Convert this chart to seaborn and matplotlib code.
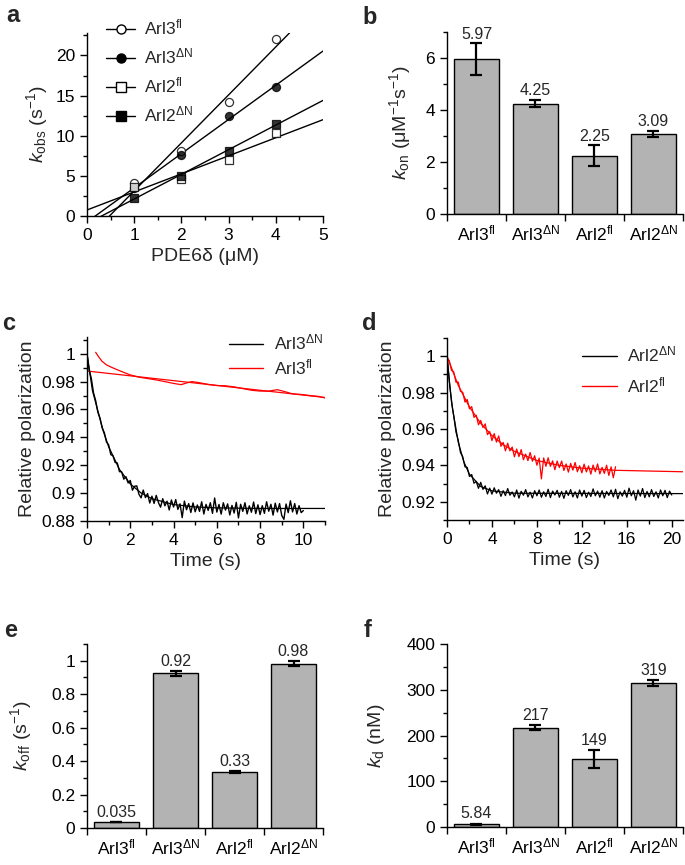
import numpy as np
import pandas as pd
import matplotlib
matplotlib.use("Agg")
import matplotlib.pyplot as plt
import seaborn as sns
from matplotlib.lines import Line2D
from matplotlib.ticker import MultipleLocator, FuncFormatter, FixedLocator, NullFormatter

# ---------------- data ----------------
# panel a: k_obs vs PDE6delta concentration
conc = [1, 2, 3, 4]
kobs_arl3_fl = [4.1, 8.1, 14.2, 22.0]
kobs_arl3_dn = [3.5, 7.6, 12.4, 16.1]
kobs_arl2_fl = [3.6, 4.6, 7.0, 10.3]
kobs_arl2_dn = [2.3, 5.0, 8.1, 11.5]

proteins = ["Arl3$^{\\mathrm{fl}}$", "Arl3$^{\\Delta\\mathrm{N}}$",
            "Arl2$^{\\mathrm{fl}}$", "Arl2$^{\\Delta\\mathrm{N}}$"]

# panel b: k_on
kon = [5.97, 4.25, 2.25, 3.09]
kon_err = [0.61, 0.15, 0.39, 0.12]
kon_labels = ["5.97", "4.25", "2.25", "3.09"]

# panel e: k_off
koff = [0.035, 0.925, 0.335, 0.983]
koff_err = [0.002, 0.016, 0.006, 0.014]
koff_labels = ["0.035", "0.92", "0.33", "0.98"]

# panel f: K_d
kd = [5.84, 217, 149, 315]
kd_err = [1.5, 5, 19, 6]
kd_labels = ["5.84", "217", "149", "319"]

# panel c: Arl3 dissociation traces
t_c_dn = [round(0.1 * i, 1) for i in range(101)]
p_c_dn = [1.0000, 0.9884, 0.9823, 0.9720, 0.9664, 0.9581, 0.9538, 0.9468, 0.9434, 0.9367,
          0.9346, 0.9276, 0.9268, 0.9220, 0.9216, 0.9154, 0.9153, 0.9100, 0.9118, 0.9073,
          0.9091, 0.9021, 0.9049, 0.9052, 0.8992, 0.8966, 0.9022, 0.8968, 0.8997, 0.8929,
          0.8978, 0.8926, 0.8984, 0.8933, 0.8899, 0.8960, 0.8909, 0.8942, 0.8879, 0.8951,
          0.8900, 0.8954, 0.8883, 0.8923, 0.8824, 0.8943, 0.8881, 0.8925, 0.8861, 0.8930,
          0.8866, 0.8915, 0.8869, 0.8938, 0.8850, 0.8919, 0.8876, 0.8931, 0.8855, 0.8965,
          0.8864, 0.8919, 0.8849, 0.8931, 0.8878, 0.8923, 0.8843, 0.8912, 0.8857, 0.8934,
          0.8822, 0.8920, 0.8869, 0.8931, 0.8851, 0.8909, 0.8863, 0.8936, 0.8853, 0.8916,
          0.8846, 0.8910, 0.8855, 0.8938, 0.8870, 0.8920, 0.8842, 0.8928, 0.8865, 0.8925,
          0.8840, 0.8812, 0.8922, 0.8860, 0.8945, 0.8865, 0.8925, 0.8850, 0.8910, 0.8860,
          0.8875]
t_c_dn_fit = [0, 0.25, 0.5, 0.75, 1.0, 1.5, 2.0, 2.5, 3.0, 4.0, 5.0, 6.0, 8.0, 11.0]
p_c_dn_fit = [1.0, 0.9737, 0.9591, 0.9446, 0.9333, 0.9170, 0.9066, 0.9001, 0.8960, 0.8918,
              0.8901, 0.8894, 0.8890, 0.8890]
t_c_fl = [0.40, 0.55, 0.70, 0.90, 1.10, 1.40, 1.70, 2.00, 2.40, 2.80, 3.20, 3.60, 4.00, 4.35,
          4.60, 4.85, 5.20, 5.60, 6.00, 6.40, 6.80, 7.20, 7.60, 8.00, 8.40, 8.80, 9.10, 9.50,
          9.90, 10.30, 10.70, 11.00]
p_c_fl = [1.0010, 0.9975, 0.9945, 0.9920, 0.9905, 0.9885, 0.9866, 0.9848, 0.9832, 0.9822,
          0.9812, 0.9800, 0.9787, 0.9778, 0.9790, 0.9800, 0.9792, 0.9780, 0.9772, 0.9770,
          0.9762, 0.9750, 0.9738, 0.9732, 0.9732, 0.9742, 0.9730, 0.9712, 0.9708, 0.9700,
          0.9694, 0.9683]
t_c_fl_fit = [0.0, 11.0]
p_c_fl_fit = [0.9876, 0.9686]

# panel d: Arl2 dissociation traces
t_d_dn = [round(0.2 * i, 1) for i in range(101)]
p_d_dn = [1.0000, 0.9871, 0.9749, 0.9672, 0.9583, 0.9538, 0.9470, 0.9448, 0.9392, 0.9389,
          0.9339, 0.9350, 0.9302, 0.9312, 0.9274, 0.9307, 0.9268, 0.9288, 0.9243, 0.9275,
          0.9242, 0.9277, 0.9247, 0.9267, 0.9230, 0.9261, 0.9234, 0.9273, 0.9236, 0.9254,
          0.9227, 0.9265, 0.9220, 0.9258, 0.9236, 0.9267, 0.9227, 0.9253, 0.9221, 0.9261,
          0.9233, 0.9265, 0.9225, 0.9255, 0.9229, 0.9269, 0.9223, 0.9259, 0.9237, 0.9263,
          0.9225, 0.9257, 0.9219, 0.9261, 0.9235, 0.9267, 0.9227, 0.9255, 0.9221, 0.9265,
          0.9231, 0.9263, 0.9223, 0.9253, 0.9229, 0.9271, 0.9233, 0.9259, 0.9225, 0.9261,
          0.9221, 0.9257, 0.9235, 0.9265, 0.9227, 0.9269, 0.9217, 0.9255, 0.9231, 0.9263,
          0.9225, 0.9275, 0.9233, 0.9261, 0.9209, 0.9265, 0.9231, 0.9273, 0.9223, 0.9257,
          0.9227, 0.9267, 0.9229, 0.9255, 0.9221, 0.9265, 0.9233, 0.9263, 0.9223, 0.9259,
          0.9237]
t_d_dn_fit = [0, 0.25, 0.5, 1.0, 1.5, 2.0, 3.0, 4.0, 6.0, 21.0]
p_d_dn_fit = [1.0, 0.9834, 0.9708, 0.9528, 0.9419, 0.9351, 0.9284, 0.9260, 0.9247, 0.9245]
t_d_fl = [round(0.2 * i, 1) for i in range(76)]
p_d_fl = [0.9990, 0.9976, 0.9922, 0.9914, 0.9857, 0.9858, 0.9807, 0.9802, 0.9748, 0.9762,
          0.9711, 0.9723, 0.9664, 0.9676, 0.9623, 0.9647, 0.9608, 0.9628, 0.9569, 0.9586,
          0.9536, 0.9575, 0.9528, 0.9562, 0.9505, 0.9526, 0.9480, 0.9522, 0.9480, 0.9501,
          0.9447, 0.9490, 0.9448, 0.9487, 0.9431, 0.9462, 0.9426, 0.9471, 0.9423, 0.9453,
          0.9401, 0.9440, 0.9326, 0.9441, 0.9395, 0.9442, 0.9395, 0.9425, 0.9376, 0.9424,
          0.9388, 0.9424, 0.9372, 0.9408, 0.9363, 0.9411, 0.9374, 0.9416, 0.9365, 0.9398,
          0.9359, 0.9407, 0.9364, 0.9397, 0.9352, 0.9402, 0.9365, 0.9408, 0.9353, 0.9389,
          0.9356, 0.9401, 0.9345, 0.9392, 0.9332, 0.9393]
t_d_fl_fit = [0, 1, 2, 3, 4, 5, 6, 8, 10, 12, 15, 21]
p_d_fl_fit = [1.0, 0.9840, 0.9721, 0.9631, 0.9564, 0.9514, 0.9477, 0.9427, 0.9400, 0.9385,
              0.9373, 0.9365]

# ---------------- style ----------------
sns.set_style("ticks")
plt.rcParams["font.family"] = ["Liberation Sans", "DejaVu Sans"]
plt.rcParams["mathtext.fontset"] = "custom"
plt.rcParams["mathtext.rm"] = "Liberation Sans"
plt.rcParams["mathtext.it"] = "Liberation Sans:italic"
plt.rcParams["mathtext.bf"] = "Liberation Sans:bold"
plt.rcParams["axes.linewidth"] = 1.0
plt.rcParams["xtick.major.width"] = 1.0
plt.rcParams["ytick.major.width"] = 1.0
plt.rcParams["xtick.minor.width"] = 1.0
plt.rcParams["ytick.minor.width"] = 1.0
plt.rcParams["xtick.direction"] = "out"
plt.rcParams["ytick.direction"] = "out"

TICK_FS = 12.5
LAB_FS = 14
VAL_FS = 11.5
LEG_FS = 12.5

W, H = 685, 865
fig = plt.figure(figsize=(W / 100, H / 100), dpi=100)


def add_axes(l, r, t, b):
    return fig.add_axes([l / W, 1 - b / H, (r - l) / W, (b - t) / H])


def fmt(v, pos):
    return f"{v:g}"


def style_axes(ax):
    sns.despine(ax=ax)
    ax.tick_params(axis="both", which="major", length=5, labelsize=TICK_FS, color="black",
                   labelcolor="black")
    ax.tick_params(axis="both", which="minor", length=3, color="black")
    for s in ax.spines.values():
        s.set_color("black")


ax_a = add_axes(87, 323, 33, 216)
ax_b = add_axes(447, 683, 32, 214)
ax_c = add_axes(87, 325, 337, 521)
ax_d = add_axes(447, 683, 338, 520)
ax_e = add_axes(87, 323, 644, 828)
ax_f = add_axes(447, 683, 644, 827)

# ---------------- panel a ----------------
ax = ax_a
ax.set_xlim(0, 5)
ax.set_ylim(0, 22.8)
series_a = [
    (kobs_arl3_fl, "o", "white"),
    (kobs_arl3_dn, "o", "black"),
    (kobs_arl2_fl, "s", "white"),
    (kobs_arl2_dn, "s", "black"),
]
for ys, mk, fc in series_a:
    sns.regplot(x=np.array(conc, float), y=np.array(ys, float), ax=ax, ci=None,
                truncate=False, marker=mk, color="black",
                scatter_kws={"s": 34, "facecolors": fc, "edgecolors": "black",
                             "linewidths": 0.9, "zorder": 3},
                line_kws={"color": "black", "lw": 1.0, "zorder": 2})
ax.set_xlim(0, 5)
ax.set_ylim(0, 22.8)
ax.xaxis.set_major_locator(MultipleLocator(1))
ax.xaxis.set_minor_locator(MultipleLocator(0.5))
ax.yaxis.set_major_locator(MultipleLocator(5))
ax.yaxis.set_minor_locator(MultipleLocator(2.5))
ax.xaxis.set_major_formatter(FuncFormatter(fmt))
ax.set_xlabel("PDE6δ (μM)", fontsize=LAB_FS, labelpad=4)
ax.set_ylabel("$k$$_{\\mathrm{obs}}$ (s$^{-1}$)", fontsize=LAB_FS, labelpad=4)
style_axes(ax)
handles = [Line2D([0], [0], color="black", lw=1.0, marker=mk, markerfacecolor=fc,
                  markeredgecolor="black", markersize=6.5)
           for _, mk, fc in series_a]
ax.legend(handles, proteins, loc="upper left", bbox_to_anchor=(0.05, 1.12), frameon=False,
          fontsize=LEG_FS, handlelength=1.7, handletextpad=0.5, labelspacing=0.52,
          borderaxespad=0)

# ---------------- bar panels ----------------
bar_color = "#b3b3b3"


def bar_panel(ax, vals, errs, labels, ylim, major, minor, ylabel, lab_off, lpad):
    df = pd.DataFrame({"protein": proteins, "value": vals})
    sns.barplot(data=df, x="protein", y="value", color=bar_color, edgecolor="black",
                linewidth=1.0, width=0.76, errorbar=None, saturation=1, ax=ax)
    xs = np.arange(len(vals))
    ax.errorbar(xs, vals, yerr=errs, fmt="none", ecolor="black", elinewidth=1.6,
                capsize=4, capthick=1.6, zorder=5)
    for x, v, e, lab in zip(xs, vals, errs, labels):
        ax.text(x, v + e + lab_off, lab, ha="center", va="bottom", fontsize=VAL_FS)
    ax.set_xlim(-0.5, 3.5)
    ax.set_ylim(*ylim)
    ax.yaxis.set_major_locator(MultipleLocator(major))
    ax.yaxis.set_minor_locator(MultipleLocator(minor))
    ax.yaxis.set_major_formatter(FuncFormatter(fmt))
    ax.xaxis.set_minor_locator(FixedLocator([-0.5, 0.5, 1.5, 2.5, 3.5]))
    ax.xaxis.set_minor_formatter(NullFormatter())
    ax.set_xlabel("")
    ax.set_ylabel(ylabel, fontsize=LAB_FS, labelpad=lpad)
    style_axes(ax)
    ax.tick_params(axis="x", which="major", length=0, pad=7, labelsize=TICK_FS)
    ax.tick_params(axis="x", which="minor", length=5)


bar_panel(ax_b, kon, kon_err, kon_labels, (0, 7), 2, 1,
          "$k$$_{\\mathrm{on}}$ (μM$^{-1}$s$^{-1}$)", 0.05, 9)
bar_panel(ax_e, koff, koff_err, koff_labels, (0, 1.1), 0.2, 0.1,
          "$k$$_{\\mathrm{off}}$ (s$^{-1}$)", 0.012, 12)
bar_panel(ax_f, kd, kd_err, kd_labels, (0, 400), 100, 50,
          "$k$$_{\\mathrm{d}}$ (nM)", 5, 14)

# ---------------- panel c ----------------
ax = ax_c
sns.lineplot(x=t_c_fl_fit, y=p_c_fl_fit, ax=ax, color="red", lw=0.9, estimator=None)
sns.lineplot(x=t_c_fl, y=p_c_fl, ax=ax, color="red", lw=0.9, estimator=None)
sns.lineplot(x=t_c_dn_fit, y=p_c_dn_fit, ax=ax, color="black", lw=0.9, estimator=None)
sns.lineplot(x=t_c_dn, y=p_c_dn, ax=ax, color="black", lw=1.0, estimator=None)
ax.set_xlim(0, 11)
ax.set_ylim(0.88, 1.012)
ax.xaxis.set_major_locator(MultipleLocator(2))
ax.xaxis.set_minor_locator(MultipleLocator(1))
ax.yaxis.set_major_locator(FixedLocator([0.88, 0.90, 0.92, 0.94, 0.96, 0.98, 1.0]))
ax.yaxis.set_minor_locator(FixedLocator([0.89, 0.91, 0.93, 0.95, 0.97, 0.99, 1.01]))
ax.yaxis.set_major_formatter(FuncFormatter(lambda v, p: f"{round(v, 2):g}"))
ax.set_xlabel("Time (s)", fontsize=LAB_FS, labelpad=4)
ax.set_ylabel("Relative polarization", fontsize=LAB_FS, labelpad=4)
style_axes(ax)
hc = [Line2D([0], [0], color="black", lw=1.0), Line2D([0], [0], color="red", lw=1.0)]
ax.legend(hc, [proteins[1], proteins[0]], loc="upper right", bbox_to_anchor=(1.02, 1.06),
          frameon=False, fontsize=LEG_FS, handlelength=2.0, handletextpad=0.6,
          labelspacing=0.25, borderaxespad=0)

# ---------------- panel d ----------------
ax = ax_d
sns.lineplot(x=t_d_fl_fit, y=p_d_fl_fit, ax=ax, color="red", lw=0.9, estimator=None)
sns.lineplot(x=t_d_fl, y=p_d_fl, ax=ax, color="red", lw=0.9, estimator=None)
sns.lineplot(x=t_d_dn_fit, y=p_d_dn_fit, ax=ax, color="black", lw=0.9, estimator=None)
sns.lineplot(x=t_d_dn, y=p_d_dn, ax=ax, color="black", lw=0.9, estimator=None)
ax.set_xlim(0, 21)
ax.set_ylim(0.91, 1.01)
ax.xaxis.set_major_locator(MultipleLocator(4))
ax.xaxis.set_minor_locator(MultipleLocator(2))
ax.yaxis.set_major_locator(FixedLocator([0.92, 0.94, 0.96, 0.98, 1.0]))
ax.yaxis.set_minor_locator(FixedLocator([0.91, 0.93, 0.95, 0.97, 0.99, 1.01]))
ax.yaxis.set_major_formatter(FuncFormatter(lambda v, p: f"{round(v, 2):g}"))
ax.set_xlabel("Time (s)", fontsize=LAB_FS, labelpad=4)
ax.set_ylabel("Relative polarization", fontsize=LAB_FS, labelpad=4)
style_axes(ax)
hd = [Line2D([0], [0], color="black", lw=1.0), Line2D([0], [0], color="red", lw=1.0)]
ax.legend(hd, [proteins[3], proteins[2]], loc="upper right", bbox_to_anchor=(1.0, 1.0),
          frameon=False, fontsize=LEG_FS, handlelength=2.0, handletextpad=0.6,
          labelspacing=0.6, borderaxespad=0)

# ---------------- panel letters ----------------
for lab, x, y in [("a", 6, 22), ("b", 362, 24), ("c", 2, 330), ("d", 362, 330),
                  ("e", 4, 637), ("f", 364, 637)]:
    fig.text(x / W, 1 - y / H, lab, fontsize=17, fontweight="bold", ha="left",
             va="baseline")

fig.savefig("out.png", dpi=100)
